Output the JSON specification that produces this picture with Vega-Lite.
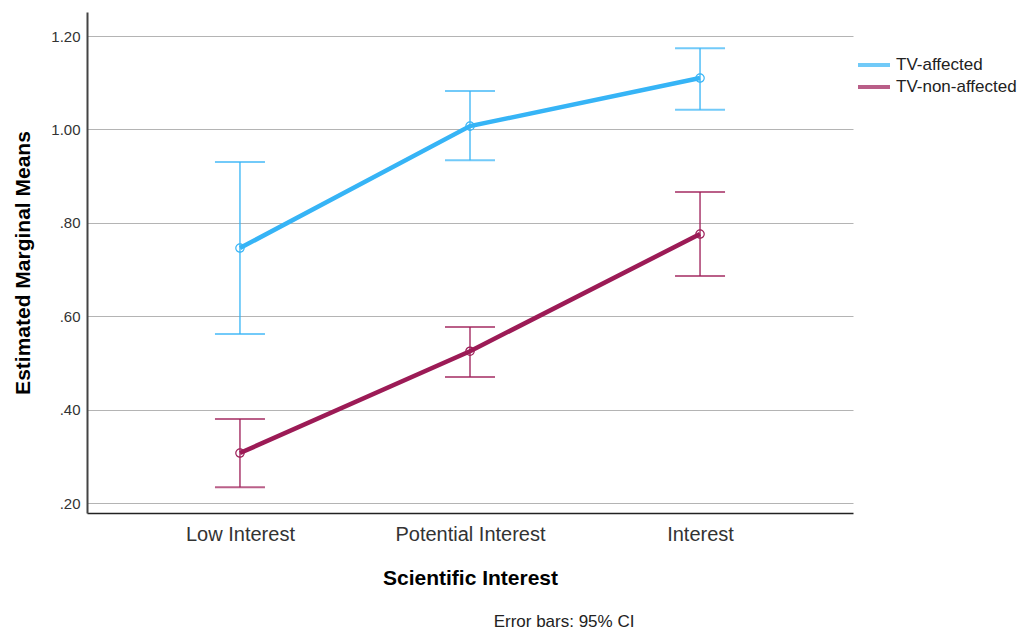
{
  "$schema": "https://vega.github.io/schema/vega-lite/v6.json",
  "autosize": "none",
  "padding": {"left": 87, "top": 12, "right": 164, "bottom": 117},
  "width": 766,
  "height": 501,
  "background": "white",
  "config": {
    "view": {"stroke": null},
    "font": "Liberation Sans",
    "title": {"font": "Liberation Sans"}
  },
  "title": {
    "text": "Error bars: 95% CI",
    "orient": "bottom",
    "anchor": "middle",
    "frame": "group",
    "dx": 94,
    "offset": 26,
    "fontSize": 17,
    "fontWeight": "normal",
    "color": "#222222"
  },
  "data": {
    "values": [
      {"group": "TV-affected", "cat": "Low Interest", "mean": 0.746, "lo": 0.562, "hi": 0.930},
      {"group": "TV-affected", "cat": "Potential Interest", "mean": 1.007, "lo": 0.934, "hi": 1.082},
      {"group": "TV-affected", "cat": "Interest", "mean": 1.110, "lo": 1.042, "hi": 1.174},
      {"group": "TV-non-affected", "cat": "Low Interest", "mean": 0.307, "lo": 0.234, "hi": 0.380},
      {"group": "TV-non-affected", "cat": "Potential Interest", "mean": 0.525, "lo": 0.470, "hi": 0.577},
      {"group": "TV-non-affected", "cat": "Interest", "mean": 0.776, "lo": 0.686, "hi": 0.866}
    ]
  },
  "encoding": {
    "x": {
      "field": "cat",
      "type": "nominal",
      "sort": ["Low Interest", "Potential Interest", "Interest"],
      "scale": {"type": "point", "padding": 0.665},
      "axis": {
        "title": "Scientific Interest",
        "titleFontSize": 21,
        "titleFontWeight": "bold",
        "titleColor": "#000000",
        "titlePadding": 23,
        "labelAngle": 0,
        "labelFontSize": 20,
        "labelColor": "#333333",
        "labelPadding": 11,
        "ticks": false,
        "grid": false,
        "domainColor": "#222222",
        "domainWidth": 1.5
      }
    },
    "color": {
      "field": "group",
      "type": "nominal",
      "scale": {"domain": ["TV-affected", "TV-non-affected"], "range": ["#36B4F6", "#9C1B56"]},
      "legend": {
        "title": null,
        "orient": "none",
        "legendX": 769,
        "legendY": 44,
        "symbolType": "stroke",
        "symbolSize": 1024,
        "symbolStrokeWidth": 4,
        "clipHeight": 18,
        "rowPadding": 4,
        "labelFontSize": 17,
        "labelColor": "#222222",
        "labelOffset": 4
      }
    }
  },
  "layer": [
    {
      "mark": {"type": "rule", "strokeWidth": 1.3},
      "encoding": {
        "y": {
          "field": "lo",
          "type": "quantitative",
          "scale": {"domain": [0.1786, 1.2514], "nice": false, "zero": false},
          "axis": {
            "title": "Estimated Marginal Means",
            "titleFontSize": 21,
            "titleFontWeight": "bold",
            "titleColor": "#000000",
            "titlePadding": 17,
            "values": [0.2, 0.4, 0.6, 0.8, 1.0, 1.2],
            "labelExpr": "datum.value < 1 ? substring(format(datum.value, '.2f'), 1) : format(datum.value, '.2f')",
            "labelFontSize": 15,
            "labelColor": "#333333",
            "labelPadding": 7,
            "ticks": false,
            "grid": true,
            "gridColor": "#B4B4B4",
            "gridWidth": 1,
            "domainColor": "#444444",
            "domainWidth": 2
          }
        },
        "y2": {"field": "hi"}
      }
    },
    {
      "mark": {"type": "tick", "orient": "horizontal", "size": 50, "thickness": 2},
      "encoding": {"y": {"field": "lo", "type": "quantitative"}}
    },
    {
      "mark": {"type": "tick", "orient": "horizontal", "size": 50, "thickness": 2},
      "encoding": {"y": {"field": "hi", "type": "quantitative"}}
    },
    {
      "mark": {"type": "line", "strokeWidth": 4.5},
      "encoding": {"y": {"field": "mean", "type": "quantitative"}}
    },
    {
      "mark": {"type": "point", "filled": false, "size": 70, "strokeWidth": 1.2, "opacity": 1},
      "encoding": {"y": {"field": "mean", "type": "quantitative"}}
    }
  ]
}
